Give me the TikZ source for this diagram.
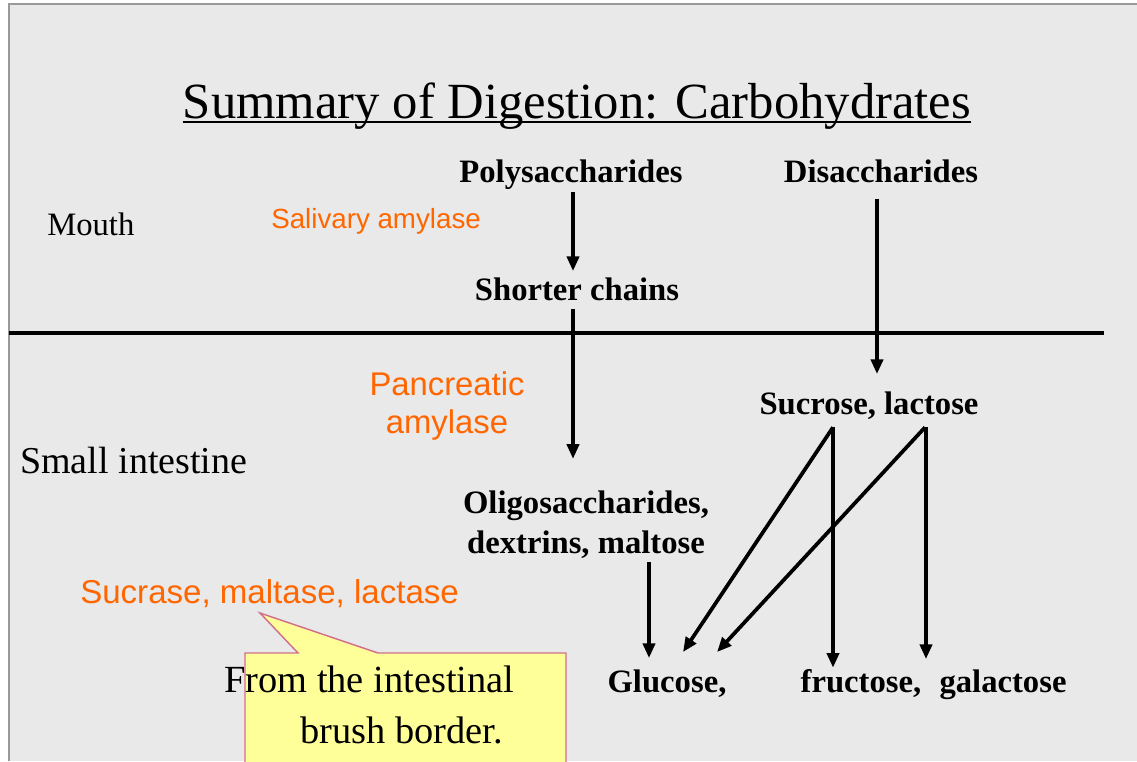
\documentclass[tikz,border=0pt]{standalone}
\usepackage{fontspec}
\setmainfont{Liberation Serif}
\newfontfamily\arialfont{Liberation Sans}
\usepackage{xcolor}
\usetikzlibrary{arrows.meta,positioning,calc}
\definecolor{slidegray}{HTML}{E9E9E9}
\definecolor{enzorange}{HTML}{FF6600}
\definecolor{notefill}{HTML}{FFFF99}
\definecolor{notedraw}{HTML}{D0708A}

\begin{document}
\begin{tikzpicture}[x=0.75pt, y=-0.75pt,
        every node/.style={inner sep=0pt, anchor=base},
        sugar/.style={font=\fontsize{24.5}{30}\selectfont\bfseries, align=center},
        region/.style={anchor=base west},
        enzyme/.style={text=enzorange, align=center},
        arr/.style={-{Triangle[length=11pt, width=9pt]}, line width=2.8pt}]
        \useasboundingbox (0,0) rectangle (1137,761);
        \fill[slidegray] (9,4) rectangle (1137,761);
        \draw[gray!80, line width=1pt] (9,761) -- (9,4) -- (1137,4);
        \node (title) at (577,118) {\fontsize{38}{44}\selectfont Summary of Digestion: Carbohydrates};
        \draw[line width=1.4pt] ($(title.base west)+(0,4)$) -- ($(title.base east)+(0,4)$);
        \node[region, font=\fontsize{24.5}{29}\selectfont] (mouth) at (47,235) {Mouth};
        \node[region, font=\fontsize{28.5}{33}\selectfont] (smallint) at (20,473) {Small intestine};
        \draw[line width=3pt] (9,333) -- (1104,333);
        \node[enzyme, region, font=\arialfont\fontsize{20.8}{25}\selectfont] (saliv) at (271,228) {Salivary amylase};
        \node[enzyme, anchor=center, font=\arialfont\fontsize{24.6}{28.5}\selectfont] (pancr) at (447,406) {Pancreatic\\amylase};
        \node[enzyme, region, font=\arialfont\fontsize{24.8}{29}\selectfont] (brushenz) at (80,603) {Sucrase, maltase, lactase};
        \node[sugar] (poly) at (571,182) {Polysaccharides};
        \node[sugar] (disacc) at (881,182) {Disaccharides};
        \node[sugar] (short) at (577,300) {Shorter chains};
        \node[sugar] (sucr) at (869,414) {Sucrose, lactose};
        \node[sugar, anchor=center] (oligo) at (586,525) {Oligosaccharides,\\dextrins, maltose};
        \node[sugar] (glc) at (667,692) {Glucose,};
        \node[sugar] (fruc) at (861,692) {fructose,};
        \node[sugar] (galac) at (1003,692) {galactose};
        \filldraw[fill=notefill, draw=notedraw, line width=1.1pt] (245,770) -- (245,653) -- (298,653) -- (260,613) -- (378,653) -- (566,653) -- (566,770);
        \node[anchor=north west, align=left, font=\fontsize{28.8}{38}\selectfont] (brushnote) at (224,666) {From the intestinal\\\hspace*{57pt}brush border.};
        \draw[arr] ($(poly.south)+(2,3)$) -- ($(poly.south |- short.north)+(2,-6)$);
        \draw[arr] ($(short.south)+(-4,8)$) -- ($(short.south |- oligo.north)+(-4,-32)$);
        \draw[arr] ($(disacc.south)+(-4,16)$) -- ($(disacc.south |- sucr.north)+(-4,-17)$);
        \draw[arr] ($(oligo.south)+(63,3)$) -- ($(oligo.south |- glc.north)+(63,-11)$);
        \draw[arr] ($(sucr.south)+(-36,8)$) -- ($(glc.north)+(16,-17)$);
        \draw[arr] ($(sucr.south)+(56,8)$) -- ($(glc.north)+(50,-17)$);
        \draw[arr] ($(sucr.south)+(-36,8)$) -- ($(sucr.south |- fruc.north)+(-36,-1)$);
        \draw[arr] ($(sucr.south)+(57,8)$) -- ($(sucr.south |- galac.north)+(57,-10)$);
    \end{tikzpicture}
\end{document}
